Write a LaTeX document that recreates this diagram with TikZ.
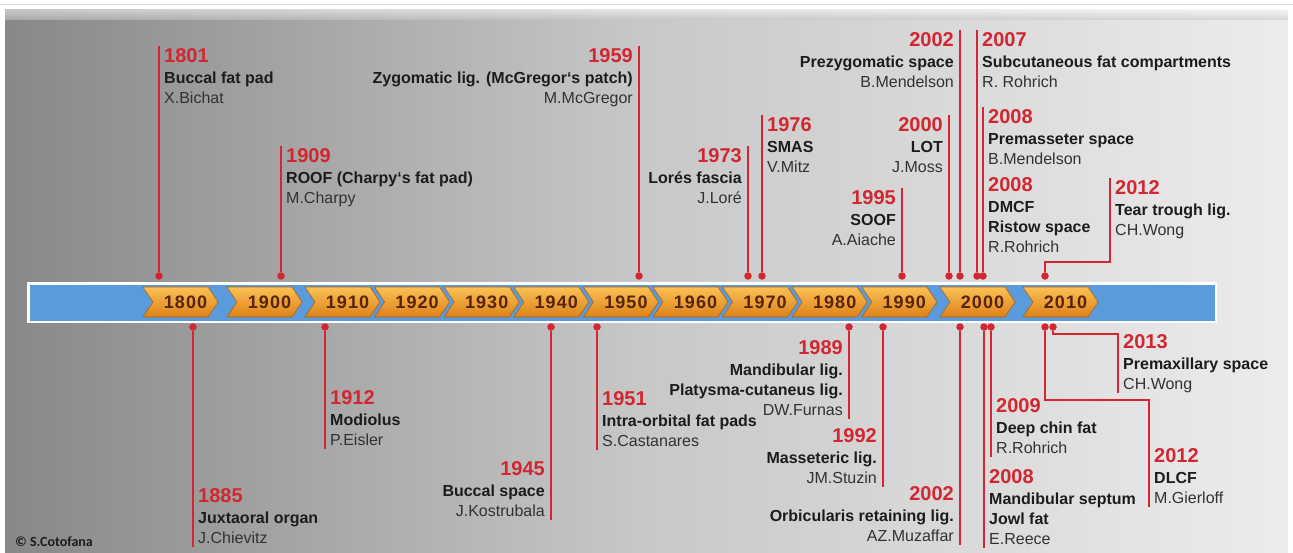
\documentclass[tikz,border=0pt]{standalone}
\usepackage{fontspec}
\setmainfont{Liberation Sans}
\newfontfamily\cpyfont{Carlito}
\newfontfamily\barfont[LetterSpace=6]{Liberation Sans}
\usetikzlibrary{positioning}

\definecolor{evred}{RGB}{210,38,48}
\definecolor{barblue}{RGB}{90,155,220}
\definecolor{chevtop}{RGB}{252,192,84}
\definecolor{chevbot}{RGB}{220,130,24}
\definecolor{chevline}{RGB}{176,98,22}
\definecolor{chevtext}{RGB}{88,36,12}
\definecolor{bgleft}{RGB}{136,136,136}
\definecolor{bgmid}{RGB}{200,200,200}
\definecolor{bgright}{RGB}{236,236,236}
\definecolor{ttlcol}{RGB}{28,28,28}
\definecolor{autcol}{RGB}{50,50,50}

\newcommand\yearfnt{\fontsize{20}{21}\selectfont\bfseries\color{evred}}
\newcommand\ttlfnt{\bfseries\color{ttlcol}}

\tikzset{
  evdot/.style={circle, fill=evred, inner sep=0pt, minimum size=7.5pt},
  evline/.style={draw=evred, line width=2pt},
  lbl/.style={inner sep=0pt, font=\fontsize{16}{20}\selectfont, text=autcol},
  lblr/.style={lbl, align=left},
  lbll/.style={lbl, align=right},
  chev/.style={top color=chevtop, bottom color=chevbot, draw=chevline, line width=0.6pt},
  chevlbl/.style={inner sep=0pt, font=\barfont\fontsize{18}{18}\selectfont\bfseries, text=chevtext}
}

\begin{document}
\begin{tikzpicture}[x=1pt, y=-1pt]
    \useasboundingbox (0,0) rectangle (1293,552);
    % background panel
    \draw[gray!25, line width=0.8pt] (0,4) -- (1293,4);
    \shade[left color=bgleft, right color=bgright, middle color=bgmid] (5,9) rectangle (1288,552);
    \shade[top color=white, bottom color=bgmid, opacity=0.55] (5,9) rectangle (1288,19);
    % time bar
    \fill[white] (27,282) rectangle (1217,323);
    \fill[barblue] (29.5,284.5) rectangle (1214.5,320.5);
    \foreach \lx/\yr in {143/1800,227/1900,305/1910,374.6/1920,444.2/1930,513.8/1940,583.4/1950,653/1960,722.6/1970,792.2/1980,861.8/1990,940/2000,1023/2010}
    {
    \draw[chev] (\lx,287) -- ++(65,0) -- ++(10,15) -- ++(-10,15) -- ++(-65,0) -- ++(10,-15) -- cycle;
    \node[chevlbl] (c\yr) at (\lx+42.5,302) {\yr};
    }
    % events above the bar
    \foreach \n/\x/\t/\txt in {1801/159/46/{\ttlfnt Buccal fat pad}\\X.Bichat,1909/281/146/{\ttlfnt ROOF (Charpy`s fat pad)}\\M.Charpy,1976/762/115/{\ttlfnt SMAS}\\V.Mitz,2007/977/30/{\ttlfnt Subcutaneous fat compartments}\\R. Rohrich,2008/983/107/{\ttlfnt Premasseter space}\\B.Mendelson}
    {
    \node[evdot] (t\n) at (\x,276) {};
    \coordinate (te\n) at (\x,\t);
    \draw[evline] (t\n) -- (te\n);
    \node[lblr, below right=2pt and 5pt of te\n] (tl\n) {{\yearfnt\n}\\[1pt]\txt};
    }
    \foreach \n/\x/\t/\txt in {1959/639/46/{\ttlfnt Zygomatic lig. (McGregor`s patch)}\\M.McGregor,1973/748/146/{\ttlfnt Lorés fascia}\\J.Loré,1995/902/188/{\ttlfnt SOOF}\\A.Aiache,2000/949/115/{\ttlfnt LOT}\\J.Moss,2002/960/30/{\ttlfnt Prezygomatic space}\\B.Mendelson}
    {
    \node[evdot] (t\n) at (\x,276) {};
    \coordinate (te\n) at (\x,\t);
    \draw[evline] (t\n) -- (te\n);
    \node[lbll, below left=2pt and 6pt of te\n] (tl\n) {{\yearfnt\n}\\[1pt]\txt};
    }
    % second 2008 entry on the same line
    \coordinate (tm2008) at (983,175);
    \node[lblr, below right=2pt and 5pt of tm2008] (tl2008b) {{\yearfnt 2008}\\[1pt]{\ttlfnt DMCF}\\{\ttlfnt Ristow space}\\R.Rohrich};
    \node[evdot] (t2012) at (1045,276) {};
    \coordinate (tk2012) at (1110,262);
    \coordinate (te2012) at (1110,178);
    \draw[evline] (t2012) |- (tk2012) -- (te2012);
    \node[lblr, below right=2pt and 5pt of te2012] (tl2012) {{\yearfnt 2012}\\[1pt]{\ttlfnt Tear trough lig.}\\CH.Wong};
    % events below the bar
    \foreach \n/\x/\t/\txt in {1885/193/547/{\ttlfnt Juxtaoral organ}\\J.Chievitz,1912/325/449/{\ttlfnt Modiolus}\\P.Eisler,1951/597/450/{\ttlfnt Intra-orbital fat pads}\\S.Castanares,2008/984/548/{\ttlfnt Mandibular septum}\\{\ttlfnt Jowl fat}\\E.Reece,2009/991/457/{\ttlfnt Deep chin fat}\\R.Rohrich}
    {
    \node[evdot] (b\n) at (\x,327) {};
    \coordinate (be\n) at (\x,\t);
    \draw[evline] (b\n) -- (be\n);
    \node[lblr, above right=-3pt and 5pt of be\n] (bl\n) {{\yearfnt\n}\\[1pt]\txt\strut};
    }
    \foreach \n/\x/\t/\txt in {1945/551/520/{\ttlfnt Buccal space}\\J.Kostrubala,1989/849/419/{\ttlfnt Mandibular lig.}\\{\ttlfnt Platysma-cutaneus lig.}\\DW.Furnas,1992/883/487/{\ttlfnt Masseteric lig.}\\JM.Stuzin,2002/960/545/{\ttlfnt Orbicularis retaining lig.}\\AZ.Muzaffar}
    {
    \node[evdot] (b\n) at (\x,327) {};
    \coordinate (be\n) at (\x,\t);
    \draw[evline] (b\n) -- (be\n);
    \node[lbll, above left=-3pt and 6pt of be\n] (bl\n) {{\yearfnt\n}\\[1pt]\txt\strut};
    }
    \node[evdot] (b2012) at (1045,327) {};
    \coordinate (bk2012) at (1149,400);
    \coordinate (be2012) at (1149,507);
    \draw[evline] (b2012) |- (bk2012) -- (be2012);
    \node[lblr, above right=-3pt and 5pt of be2012] (bl2012) {{\yearfnt 2012}\\[1pt]{\ttlfnt DLCF}\\M.Gierloff\strut};
    \node[evdot] (b2013) at (1053,327) {};
    \coordinate (bk2013) at (1118,334);
    \coordinate (be2013) at (1118,393);
    \draw[evline] (b2013) |- (bk2013) -- (be2013);
    \node[lblr, above right=-3pt and 5pt of be2013] (bl2013) {{\yearfnt 2013}\\[1pt]{\ttlfnt Premaxillary space}\\CH.Wong\strut};
    % copyright
    \node[anchor=base west, inner sep=0pt, font=\cpyfont\fontsize{14}{16}\selectfont\bfseries, text=ttlcol] (cpy) at (15,546) {© S.Cotofana};
\end{tikzpicture}
\end{document}
